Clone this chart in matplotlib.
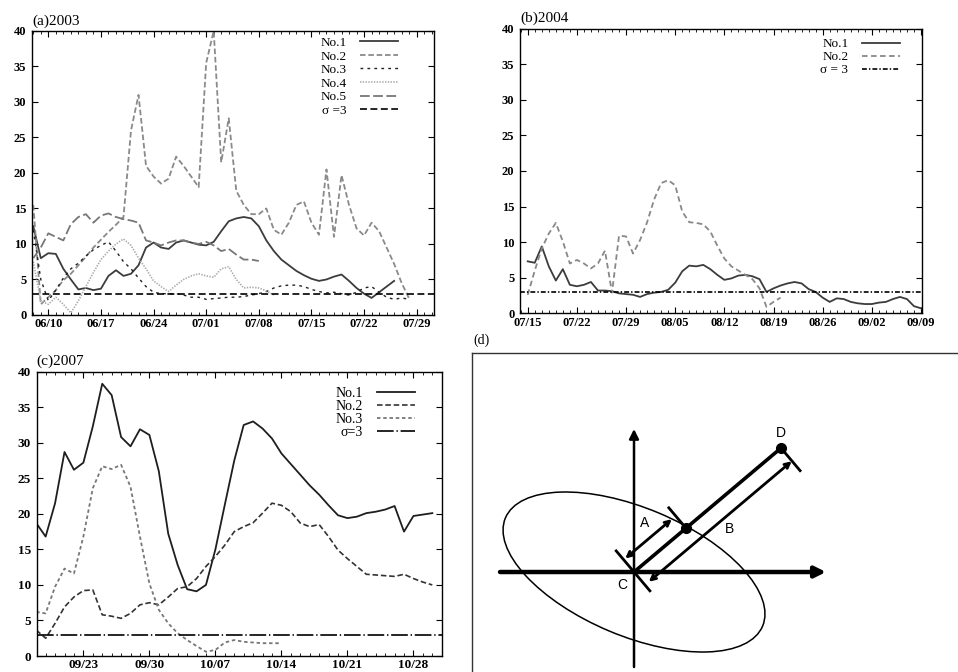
import numpy as np
import pandas as pd
import matplotlib
matplotlib.use('Agg')
import matplotlib.pyplot as plt
from matplotlib.patches import Ellipse, FancyArrowPatch
from matplotlib.ticker import MultipleLocator

plt.rcParams.update({'font.family': 'Liberation Serif', 'lines.scale_dashes': False,
                     'axes.linewidth': 1.0})

# ---- (a) 2003, day 0 = 06/10 ----
A_YEAR, A_BASE = 2003, '06/10'
A_TICKS = ['06/10', '06/17', '06/24', '07/01', '07/08', '07/15', '07/22', '07/29']
A_XLIM = (-2.17, 51.3)
A_NO1_START = -2
A_NO1 = [12.5, 8.0, 8.7, 8.6, 6.5, 5.0, 3.6, 3.8, 3.5, 3.7, 5.5, 6.3, 5.5, 5.8, 7.0,
         9.5, 10.2, 9.5, 9.3, 10.2, 10.5, 10.2, 9.9, 9.8, 10.3, 11.8, 13.2, 13.6, 13.8,
         13.6, 12.5, 10.5, 9.0, 7.8, 7.0, 6.2, 5.6, 5.1, 4.8, 5.0, 5.4, 5.7, 4.8, 3.8,
         3.0, 2.4, 3.2, 4.0, 4.8]
A_NO2_START = -2
A_NO2 = [15.5, 1.5, 2.5, 3.5, 4.9, 5.8, 7.0, 8.2, 9.5, 10.6, 11.7, 12.7, 13.8, 26.0,
         31.0, 21.0, 19.5, 18.5, 19.2, 22.3, 21.0, 19.5, 18.0, 35.5, 40.0, 21.5, 27.7,
         17.5, 15.5, 14.2, 14.2, 15.0, 12.0, 11.3, 13.0, 15.5, 16.0, 13.0, 11.3, 20.5,
         11.0, 19.7, 15.5, 12.2, 11.2, 13.0, 11.8, 9.5, 7.2, 4.5, 2.3]
A_NO3_START = -2
A_NO3 = [12.0, 5.0, 2.0, 3.5, 5.2, 6.5, 7.3, 8.3, 9.2, 9.8, 10.3, 9.0, 7.5, 6.5, 5.2,
         4.0, 3.2, 3.0, 3.0, 3.0, 2.8, 2.5, 2.5, 2.2, 2.3, 2.4, 2.5, 2.5, 2.6, 2.8, 3.0,
         3.3, 3.8, 4.1, 4.2, 4.2, 4.0, 3.6, 3.3, 3.1, 3.2, 3.0, 2.8, 3.2, 3.8, 4.0, 3.2,
         2.5, 2.2, 2.4, 2.2]
A_NO4_START = -2
A_NO4 = [7.5, 2.0, 1.5, 2.5, 1.5, 0.3, 2.0, 4.0, 6.0, 7.8, 9.0, 10.0, 10.7, 9.8, 8.0,
         6.5, 4.8, 4.0, 3.3, 4.2, 5.0, 5.5, 5.8, 5.5, 5.3, 6.5, 6.8, 5.0, 3.8, 3.9, 3.8,
         3.4, 2.8]
A_NO5_START = -2
A_NO5 = [8.0, 9.5, 11.5, 11.0, 10.5, 12.8, 13.8, 14.2, 13.0, 14.0, 14.3, 13.8, 13.5,
         13.3, 13.0, 10.5, 10.2, 9.8, 10.2, 10.5, 10.5, 10.2, 10.0, 10.3, 9.8, 9.0, 9.3,
         8.5, 7.8, 7.8, 7.6]

# ---- (b) 2004, day 0 = 07/15 ----
B_YEAR, B_BASE = 2004, '07/15'
B_TICKS = ['07/15', '07/22', '07/29', '08/05', '08/12', '08/19', '08/26', '09/02', '09/09']
B_XLIM = (-1.1, 56.1)
B_NO1_START = 0
B_NO1 = [7.3, 7.1, 9.4, 6.6, 4.6, 6.2, 4.0, 3.8, 4.0, 4.4, 3.2, 3.2, 3.1, 2.8, 2.7, 2.6,
         2.3, 2.7, 2.9, 3.0, 3.3, 4.3, 5.9, 6.7, 6.6, 6.8, 6.2, 5.4, 4.7, 4.9, 5.3, 5.4,
         5.2, 4.8, 3.0, 3.5, 3.9, 4.2, 4.4, 4.2, 3.4, 3.0, 2.2, 1.6, 2.1, 2.0, 1.6, 1.4,
         1.3, 1.3, 1.5, 1.6, 2.0, 2.3, 2.0, 1.0, 0.7]
B_NO2_START = 0
B_NO2 = [2.6, 6.0, 9.1, 11.2, 12.7, 10.1, 7.0, 7.5, 7.0, 6.3, 7.0, 8.8, 2.9, 10.9, 10.8,
         8.4, 10.3, 12.8, 16.0, 18.3, 18.7, 18.0, 14.3, 12.8, 12.7, 12.5, 11.5, 9.5, 7.7,
         6.6, 6.0, 5.4, 4.8, 3.5, 0.9, 1.6, 2.2]

# ---- (c) 2007, day 0 = 09/23 ----
C_YEAR, C_BASE = 2007, '09/23'
C_TICKS = ['09/23', '09/30', '10/07', '10/14', '10/21', '10/28']
C_XLIM = (-4.95, 38.0)
C_NO1_START = -5
C_NO1 = [18.7, 16.8, 21.5, 28.7, 26.2, 27.2, 32.3, 38.3, 36.7, 30.8, 29.5, 31.9, 31.1,
         26.0, 17.2, 12.8, 9.4, 9.1, 10.0, 15.0, 21.3, 27.5, 32.5, 33.0, 32.0, 30.6,
         28.5, 27.0, 25.5, 24.0, 22.7, 21.2, 19.8, 19.4, 19.6, 20.1, 20.3, 20.6, 21.1,
         17.5, 19.7, 19.9, 20.1]
C_NO2_START = -5
C_NO2 = [3.65, 2.5, 4.6, 6.9, 8.3, 9.2, 9.3, 5.8, 5.6, 5.3, 6.0, 7.2, 7.5, 7.2, 8.3, 9.5,
         9.75, 10.9, 12.6, 14.0, 15.6, 17.5, 18.2, 18.75, 20.1, 21.5, 21.2, 20.3, 18.7,
         18.2, 18.5, 16.8, 14.9, 13.7, 12.6, 11.5, 11.4, 11.3, 11.2, 11.5, 10.9, 10.4, 10.0]
C_NO3_START = -5
C_NO3 = [6.2, 6.0, 9.75, 12.3, 11.6, 16.8, 23.6, 26.7, 26.3, 26.9, 23.8, 16.8, 10.2, 6.5,
         4.6, 3.2, 2.25, 1.4, 0.6, 0.85, 1.9, 2.25, 2.0, 1.9, 1.8, 1.8, 1.8]

SIGMA = 3

# ---- (d) schematic, coordinates in panel units ----
D_C = (634.0, 100.0)
D_D = (781.0, 224.0)
D_M_ALONG = 68.0
D_ELLIPSE = (279.0, 128.0, -22.8)
D_XAXIS = (500.0, 826.0)
D_YAXIS = (5.0, 243.0)
D_A_ARROW = (-16.0, 2.0, 63.0)    # perpendicular offset, start, end along CD
D_B_ARROW = (17.0, 5.0, 192.0)
D_TICK_C = (-29.0, 26.0)
D_TICK_M = (-28.0, 2.0)
D_TICK_D = (0.0, 31.0)


def tick_days(year, labels, base):
    b = pd.Timestamp(f'{year}-{base.replace("/", "-")}')
    return [(pd.Timestamp(f'{year}-{s.replace("/", "-")}') - b).days for s in labels]


def series(ax, start, vals, **kw):
    x = start + np.arange(len(vals))
    return ax.plot(x, vals, **kw)[0]


def style_axes(ax, xlim, ticks, labels, tsize=9):
    ax.set_xlim(*xlim)
    ax.set_ylim(0, 40)
    ax.set_xticks(ticks)
    ax.set_xticklabels(labels)
    ax.set_yticks(range(0, 41, 5))
    ax.xaxis.set_minor_locator(MultipleLocator(1))
    ax.tick_params(which='both', direction='in', top=True, right=True, labelsize=tsize)
    ax.tick_params(which='major', length=4, width=0.8)
    ax.tick_params(which='minor', length=2, width=0.6)
    ax.tick_params(axis='x', pad=2.5)
    ax.tick_params(axis='y', pad=4)
    for lab in ax.get_xticklabels() + ax.get_yticklabels():
        lab.set_fontweight('bold')


fig = plt.figure(figsize=(9.58, 6.72), dpi=100)
leg_kw = dict(loc='upper right', frameon=False, markerfirst=False,
              borderpad=0, handletextpad=1.0)

# (a)
ax = fig.add_axes([0.0334, 0.5313, 0.4196, 0.4226])
h = []
h.append(series(ax, A_NO1_START, A_NO1, color='#3c3c3c', lw=1.3, label='No.1'))
h.append(series(ax, A_NO2_START, A_NO2, color='#8a8a8a', lw=1.3, ls=(0, (4, 2)), label='No.2'))
h.append(series(ax, A_NO3_START, A_NO3, color='#222222', lw=1.0, ls=(0, (2, 3)), label='No.3'))
h.append(series(ax, A_NO4_START, A_NO4, color='#aaaaaa', lw=1.2, ls=(0, (1, 1)), label='No.4'))
h.append(series(ax, A_NO5_START, A_NO5, color='#777777', lw=1.3, ls=(0, (7, 2.5)), label='No.5'))
h.append(ax.axhline(SIGMA, color='black', lw=1.2, ls=(0, (5, 2.5)), label='σ =3'))
style_axes(ax, A_XLIM, tick_days(A_YEAR, A_TICKS, A_BASE), A_TICKS)
ax.legend(handles=h, bbox_to_anchor=(0.927, 1.003), fontsize=9.5, labelspacing=0.1,
          handlelength=2.9, **leg_kw)
ax.text(0, 1.012, '(a)2003', transform=ax.transAxes, fontsize=11, va='bottom')

# (b)
ax = fig.add_axes([0.5428, 0.5338, 0.4193, 0.4235])
h = []
h.append(series(ax, B_NO1_START, B_NO1, color='#3c3c3c', lw=1.3, label='No.1'))
h.append(series(ax, B_NO2_START, B_NO2, color='#888888', lw=1.3, ls=(0, (4, 2.5)), label='No.2'))
h.append(ax.axhline(SIGMA, color='black', lw=1.2, ls=(0, (3.5, 1.5, 1, 1.5)), label='σ = 3'))
style_axes(ax, B_XLIM, tick_days(B_YEAR, B_TICKS, B_BASE), B_TICKS)
ax.legend(handles=h, bbox_to_anchor=(0.962, 0.99), fontsize=9.5, labelspacing=0.05,
          handlelength=2.9, **leg_kw)
ax.text(0, 1.012, '(b)2004', transform=ax.transAxes, fontsize=11, va='bottom')

# (c)
ax = fig.add_axes([0.0383, 0.0238, 0.4228, 0.4231])
h = []
h.append(series(ax, C_NO1_START, C_NO1, color='#1e1e1e', lw=1.3, label='No.1'))
h.append(series(ax, C_NO2_START, C_NO2, color='#333333', lw=1.2, ls=(0, (4, 2)), label='No.2'))
h.append(series(ax, C_NO3_START, C_NO3, color='#777777', lw=1.3, ls=(0, (2.5, 2)), label='No.3'))
h.append(ax.axhline(SIGMA, color='black', lw=1.2, ls=(0, (12, 2, 1, 2)), label='σ=3'))
style_axes(ax, C_XLIM, tick_days(C_YEAR, C_TICKS, C_BASE), C_TICKS, tsize=9.5)
ax.legend(handles=h, bbox_to_anchor=(0.95, 0.97), fontsize=10, labelspacing=0.0,
          handlelength=2.7, **leg_kw)
ax.text(0, 1.012, '(c)2007', transform=ax.transAxes, fontsize=11, va='bottom')

# (d)
ax = fig.add_axes([0.4924, 0.0, 0.5076, 0.4751])
ax.set_xlim(471.7, 958)
ax.set_ylim(0, 319.3)
ax.set_xticks([])
ax.set_yticks([])
for side in ('right', 'bottom'):
    ax.spines[side].set_visible(False)
for side in ('left', 'top'):
    ax.spines[side].set_color('#333333')

c = np.array(D_C)
d = np.array(D_D)
u = (d - c) / np.linalg.norm(d - c)
p = np.array([u[1], -u[0]])

w, hgt, ang = D_ELLIPSE
ax.add_patch(Ellipse(c, w, hgt, angle=ang, fill=False, lw=1.1, color='black'))
ax.add_patch(FancyArrowPatch((D_XAXIS[0], c[1]), (D_XAXIS[1], c[1]), arrowstyle='-|>',
                             mutation_scale=16, lw=3.2, color='black', shrinkA=0, shrinkB=0))
ax.add_patch(FancyArrowPatch((c[0], D_YAXIS[0]), (c[0], D_YAXIS[1]), arrowstyle='-|>',
                             mutation_scale=14, lw=1.8, color='black', shrinkA=0, shrinkB=0))
ax.plot([c[0], d[0]], [c[1], d[1]], color='black', lw=2.6, solid_capstyle='butt')
m = c + u * D_M_ALONG
for off, s0, s1 in (D_A_ARROW, D_B_ARROW):
    a0 = c + p * off + u * s0
    a1 = c + p * off + u * s1
    ax.add_patch(FancyArrowPatch(a0, a1, arrowstyle='<->', mutation_scale=9, lw=2.0,
                                 color='black', shrinkA=0, shrinkB=0))
for base, (t0, t1) in ((c, D_TICK_C), (m, D_TICK_M), (d, D_TICK_D)):
    q0 = base + p * t0
    q1 = base + p * t1
    ax.plot([q0[0], q1[0]], [q0[1], q1[1]], color='black', lw=2.0, solid_capstyle='butt')
ax.plot([m[0], d[0]], [m[1], d[1]], 'o', color='black', ms=7)

lab_font = dict(family='Liberation Sans', fontsize=10)
ax.text(645, 148.7, 'A', ha='center', va='center', **lab_font)
ax.text(729.3, 142.7, 'B', ha='center', va='center', **lab_font)
ax.text(622.7, 87, 'C', ha='center', va='center', **lab_font)
ax.text(780.7, 238.7, 'D', ha='center', va='center', **lab_font)
fig.text(473 / 958, 1 - 340 / 672, '(d)', fontsize=10, va='center')

fig.savefig('out.png', dpi=100)
